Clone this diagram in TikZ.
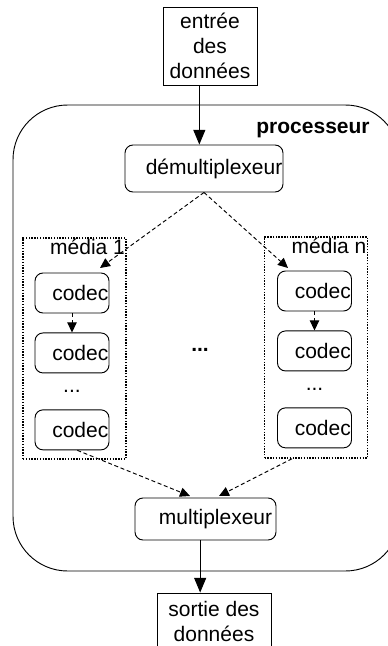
\documentclass[tikz,border=0pt]{standalone}
\usepackage{fontspec}
\setmainfont{Liberation Sans}
\usetikzlibrary{positioning}
\usetikzlibrary{calc}
\usetikzlibrary{arrows.meta}

\begin{document}
\begin{tikzpicture}[x=0.75pt, y=-0.75pt, line width=0.7pt,
    every node/.style={font=\fontsize{15.75}{18.75}\selectfont},
    databox/.style={draw, align=center, inner sep=1pt},
    unitbox/.style={draw, rounded corners=6pt, inner xsep=0.5pt, align=right},
    codecbox/.style={unitbox, text width=54.5pt, minimum height=30pt},
    mediabox/.style={draw, densely dotted, line width=1.1pt, minimum width=77.25pt, minimum height=165.75pt},
    flow/.style={-{Triangle[length=11pt, width=9pt]}},
    link/.style={densely dashed, -{Triangle[length=7.5pt, width=7pt]}}]

    \useasboundingbox (0,0) rectangle (388,646);
    \clip (0,0) rectangle (388,646);

    % processeur
    \node[draw, rounded corners=41pt, minimum width=290.25pt, minimum height=349.5pt] (proc) at (206.5,338) {};
    \node[font=\fontsize{15.75}{18.75}\selectfont\bfseries] (proclabel) at (313,130) {processeur};

    \node[databox, minimum width=70.5pt, minimum height=58.5pt] (in) at (210,46) {entrée\\des\\données};
    \node[unitbox, text width=117.5pt, minimum height=35.25pt] (demux) at (204,168.5) {démultiplexeur};

    % media 1
    \node[codecbox] (c11) at (72,293) {codec};
    \node[codecbox, below=14.25pt of c11] (c12) {codec};
    \node[codecbox, below=27pt of c12] (c13) {codec};
    \node (d1) at ($(c12)!0.5!(c13)$) {...};
    \node[mediabox, label={[anchor=north east, inner sep=1pt]north east:média 1}] (m1) at (74.5,348.5) {};

    % media n
    \node[codecbox] (cn1) at (314.5,291) {codec};
    \node[codecbox, below=14.25pt of cn1] (cn2) {codec};
    \node[codecbox, below=27pt of cn2] (cn3) {codec};
    \node (dn) at ($(cn2)!0.5!(cn3)$) {...};
    \node[mediabox, label={[anchor=north east, inner sep=1pt]north east:média n}] (mn) at (316,347.5) {};

    \node[font=\fontsize{15.75}{18.75}\selectfont\bfseries] (dots) at (200,350) {...};

    \node[unitbox, text width=100pt, inner xsep=2.875pt, minimum height=31.5pt] (mux) at (205.5,519) {multiplexeur};
    \node[databox, minimum width=85.5pt, minimum height=42pt] (out) at (214,621) {sortie des\\données};

    \coordinate (m1top) at (100,268);
    \coordinate (mntop) at (288,268);
    \coordinate (mux1) at (190,496);
    \coordinate (muxn) at (219,496);

    \draw[flow] ([xshift=-8pt]in.south) -- ([xshift=-8pt]in.south |- demux.north);
    \draw[link] (demux.south) -- (m1top);
    \draw[link] (demux.south) -- (mntop);
    \draw[link] (c11) -- (c12);
    \draw[link] (cn1) -- (cn2);
    \draw[link] ([xshift=4pt]c13.south) -- (mux1);
    \draw[link] ([xshift=-18pt]mn.south) -- (muxn);
    \draw[flow] ([xshift=-4pt]mux.south) -- ([xshift=-4pt]mux.south |- out.north);

\end{tikzpicture}
\end{document}
